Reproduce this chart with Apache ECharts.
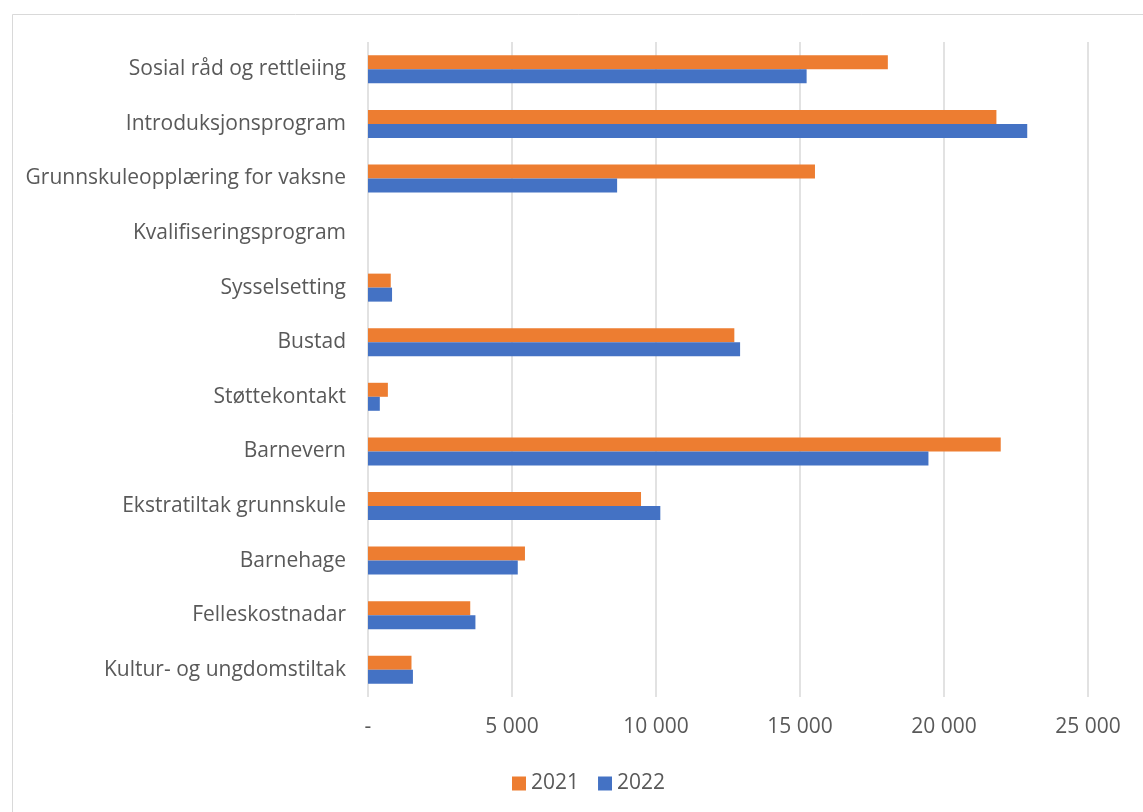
<!DOCTYPE html>
<html>
<head>
<meta charset="utf-8">
<script src="https://cdn.jsdelivr.net/npm/echarts@6/dist/echarts.min.js"></script>
<style>
html,body{margin:0;padding:0;background:#fff;}
#main{width:1143px;height:812px;}
</style>
</head>
<body>
<div id="main"></div>
<script>
const categories = [
  "Sosial råd og rettleiing",
  "Introduksjonsprogram",
  "Grunnskuleopplæring for vaksne",
  "Kvalifiseringsprogram",
  "Sysselsetting",
  "Bustad",
  "Støttekontakt",
  "Barnevern",
  "Ekstratiltak grunnskule",
  "Barnehage",
  "Felleskostnadar",
  "Kultur- og ungdomstiltak"
];
const values2021 = [18050, 21820, 15520, 0, 790, 12720, 690, 21970, 9480, 5450, 3550, 1510];
const values2022 = [15230, 22890, 8650, 0, 835, 12920, 410, 19460, 10150, 5200, 3730, 1560];
const seriesNames = ["2021", "2022"];
const xTicks = { min: 0, max: 25000, interval: 5000 };

const FONT = "Open Sans";
const FS = 21;
const chart = echarts.init(document.getElementById('main'), null, {renderer: 'canvas'});
chart.setOption({
  animation: false,
  backgroundColor: '#fff',
  textStyle: { fontFamily: FONT },
  graphic: [{
    type: 'rect', left: 10, top: 12, silent: true,
    shape: { width: 1150, height: 820 },
    style: { fill: 'none', stroke: '#d9d9d9', lineWidth: 1 }
  }],
  grid: { left: 368, right: 55, top: 42, bottom: 115, containLabel: false },
  legend: {
    data: seriesNames,
    left: 512, top: 773, padding: 0,
    itemWidth: 14, itemHeight: 14, itemGap: 19,
    icon: 'rect',
    textStyle: { fontFamily: FONT, fontSize: FS, color: '#595959' }
  },
  xAxis: {
    type: 'value',
    min: xTicks.min, max: xTicks.max, interval: xTicks.interval,
    axisLine: { show: false },
    axisTick: { show: false },
    splitLine: { lineStyle: { color: '#d9d9d9', width: 1.5 } },
    axisLabel: {
      margin: 20, fontSize: FS, color: '#595959', fontFamily: FONT,
      formatter: v => v === 0 ? '-' : String(v).replace(/\B(?=(\d{3})+(?!\d))/g, ' ')
    }
  },
  yAxis: {
    type: 'category',
    data: categories,
    inverse: true,
    axisLine: { show: false },
    axisTick: { show: false },
    axisLabel: { margin: 22, fontSize: FS, color: '#595959', fontFamily: FONT }
  },
  series: [
    { name: seriesNames[0], type: 'bar', data: values2021, barWidth: 14, barGap: '0%',
      itemStyle: { color: '#ED7D31' } },
    { name: seriesNames[1], type: 'bar', data: values2022, barWidth: 14, barGap: '0%',
      itemStyle: { color: '#4472C4' } }
  ]
});
</script>
</body>
</html>
